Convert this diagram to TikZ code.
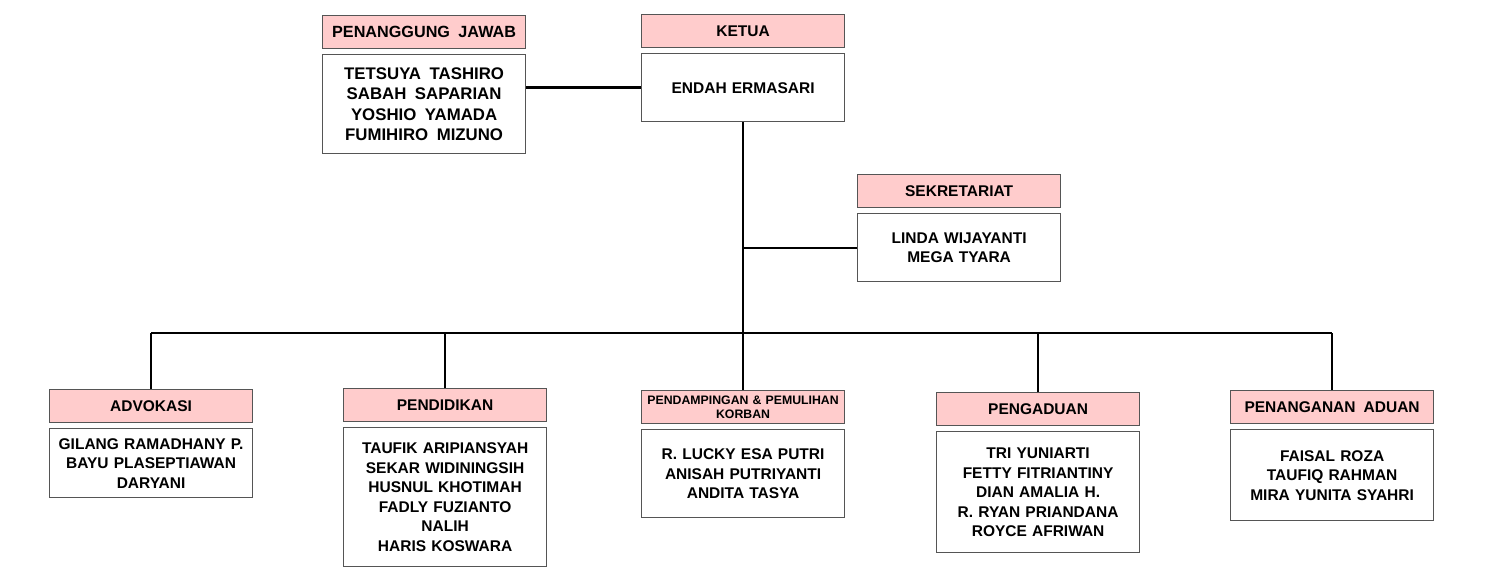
\documentclass[tikz,border=0pt]{standalone}
\usepackage{fontspec}
\setmainfont{Liberation Sans}
\usetikzlibrary{positioning}
\definecolor{headpink}{HTML}{FFCCCC}
\definecolor{boxline}{HTML}{555555}
\newcommand{\wgap}{\hspace{3pt} }

\begin{document}
\begin{tikzpicture}[
	x = 1pt, y = -1pt,
	box/.style = {draw = boxline, line width = 1.2pt, rectangle, minimum width = 203pt,
		text width = 197pt, align = center, inner sep = 0pt, font = \bfseries\fontsize{15.5}{19.5}\selectfont},
	head/.style = {box, fill = headpink, minimum height = 33pt, anchor = north west},
	body/.style = {box, fill = white, below = 5pt of #1},
	link/.style = {line width = 2.6pt, black}
	]
	\useasboundingbox (0,0) rectangle (1490,583);
	% top part
	\node[head, font = \bfseries\fontsize{16.2}{19.5}\selectfont] (pjh) at (322,15) {PENANGGUNG\wgap JAWAB};
	\node[body = pjh, minimum height = 99pt, font = \bfseries\fontsize{16.8}{20.3}\selectfont] (pjb)
		{TETSUYA\wgap TASHIRO\\SABAH\wgap SAPARIAN\\YOSHIO\wgap YAMADA\\FUMIHIRO\wgap MIZUNO};
	\node[head] (ketuah) at (641,14) {KETUA};
	\node[body = ketuah, minimum height = 68pt] (ketuab) {ENDAH ERMASARI};
	\node[head] (sekh) at (857,174) {SEKRETARIAT};
	\node[body = sekh, minimum height = 68pt] (sekb) {LINDA WIJAYANTI\\MEGA TYARA};
	% divisions
	\node[head] (advh) at (49,389) {ADVOKASI};
	\node[body = advh, minimum height = 69pt] (advb) {GILANG RAMADHANY P.\\BAYU PLASEPTIAWAN\\DARYANI};
	\node[head] (pddh) at (343,388) {PENDIDIKAN};
	\node[body = pddh, minimum height = 139pt] (pddb) {TAUFIK ARIPIANSYAH\\SEKAR WIDININGSIH\\HUSNUL KHOTIMAH\\FADLY FUZIANTO\\NALIH\\HARIS KOSWARA};
	\node[head, text width = 201pt, font = \bfseries\fontsize{12.3}{14}\selectfont] (pmph) at (641,390) {PENDAMPINGAN \& PEMULIHAN\\KORBAN};
	\node[body = pmph, minimum height = 88pt] (pmpb) {R. LUCKY ESA PUTRI\\ANISAH PUTRIYANTI\\ANDITA TASYA};
	\node[head] (pgdh) at (936,392) {PENGADUAN};
	\node[body = pgdh, minimum height = 121pt] (pgdb) {TRI YUNIARTI\\FETTY FITRIANTINY\\DIAN AMALIA H.\\R. RYAN PRIANDANA\\ROYCE AFRIWAN};
	\node[head] (pnah) at (1230,390) {PENANGANAN\wgap ADUAN};
	\node[body = pnah, minimum height = 91pt] (pnab) {FAISAL ROZA\\TAUFIQ RAHMAN\\MIRA YUNITA SYAHRI};
	% connectors
	\coordinate (bus) at (744,333);
	\draw[link] (ketuab.west) -- (ketuab.west -| pjb.east);
	\draw[link] (ketuab.south) -- (ketuab.south |- bus);
	\draw[link] (sekb.west) -- (sekb.west -| ketuab.south);
	\draw[link] (advh.north |- bus) -- (pnah.north |- bus);
	\foreach \d in {advh, pddh, pmph, pgdh, pnah}
		\draw[link] (\d.north) -- (\d.north |- bus);
\end{tikzpicture}
\end{document}
